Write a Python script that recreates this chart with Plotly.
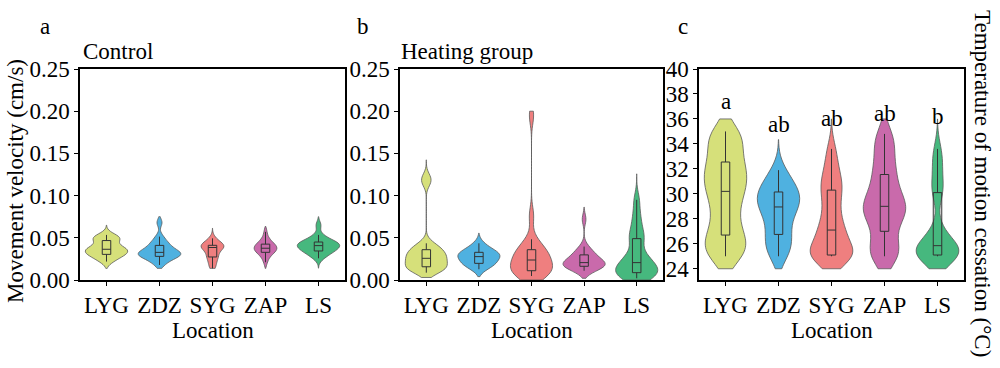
import plotly.graph_objects as go

# ---------------- data ----------------
locations = ["LYG", "ZDZ", "SYG", "ZAP", "LS"]
colors = ["#d6e07a", "#4fb1e0", "#ef7f7f", "#c96aab", "#46b87e"]

# a: Control – movement velocity (cm/s)
ctrl_LYG = [0.0218, 0.025, 0.028, 0.030, 0.0305, 0.032, 0.034, 0.0355, 0.0364, 0.037, 0.039, 0.041, 0.0463, 0.048, 0.050, 0.051, 0.0534]
ctrl_ZDZ = [0.0178, 0.022, 0.025, 0.027, 0.028, 0.029, 0.030, 0.031, 0.0325, 0.033, 0.034, 0.036, 0.038, 0.041, 0.043, 0.046, 0.0514, 0.068]
ctrl_SYG = [0.0138, 0.018, 0.022, 0.026, 0.0277, 0.030, 0.033, 0.036, 0.0385, 0.039, 0.0395, 0.040, 0.0408, 0.042, 0.044, 0.046, 0.0494]
ctrl_ZAP = [0.021, 0.0265, 0.030, 0.032, 0.0328, 0.034, 0.036, 0.037, 0.0375, 0.0378, 0.039, 0.040, 0.0418, 0.0425, 0.044, 0.047, 0.0494, 0.057]
ctrl_LS = [0.0257, 0.029, 0.032, 0.034, 0.0344, 0.036, 0.038, 0.039, 0.0405, 0.041, 0.042, 0.043, 0.0445, 0.045, 0.047, 0.049, 0.0534, 0.065]

# b: Heating group – movement velocity (cm/s)
heat_LYG = [0.0087, 0.011, 0.013, 0.015, 0.0155, 0.0162, 0.020, 0.023, 0.025, 0.0257, 0.028, 0.030, 0.033, 0.0350, 0.0362, 0.040, 0.0435, 0.115, 0.122]
heat_ZDZ = [0.0127, 0.016, 0.018, 0.0195, 0.0198, 0.022, 0.025, 0.027, 0.0277, 0.029, 0.030, 0.031, 0.0324, 0.034, 0.036, 0.039, 0.0435]
heat_SYG = [0.0047, 0.006, 0.008, 0.009, 0.011, 0.011, 0.014, 0.017, 0.021, 0.0237, 0.026, 0.028, 0.032, 0.035, 0.0362, 0.040, 0.0483, 0.076, 0.195]
heat_ZAP = [0.011, 0.013, 0.015, 0.0155, 0.016, 0.017, 0.018, 0.019, 0.020, 0.0206, 0.022, 0.023, 0.025, 0.029, 0.030, 0.032, 0.035, 0.0396, 0.072]
heat_LS = [0.002, 0.004, 0.006, 0.008, 0.0087, 0.0087, 0.012, 0.015, 0.018, 0.0206, 0.023, 0.027, 0.033, 0.046, 0.050, 0.056, 0.066, 0.078, 0.095]

# c: Temperature of motion cessation (°C)
temp_LYG = [25.0, 25.0, 25.5, 26.0, 26.4, 26.8, 27.5, 28.3, 29.0, 29.7, 30.2, 30.7, 31.1, 31.5, 32.0, 32.4, 33.0, 33.7, 34.3, 34.8, 35.0]
temp_ZDZ = [25.0, 25.2, 25.8, 26.2, 26.5, 27.0, 27.6, 28.1, 28.5, 28.9, 29.0, 29.3, 29.6, 29.8, 30.1, 30.2, 30.5, 30.9, 31.4, 31.9]
temp_SYG = [25.0, 25.0, 25.1, 25.1, 25.1, 25.1, 25.6, 26.2, 26.7, 27.0, 27.2, 27.9, 28.6, 29.3, 30.1, 30.5, 31.0, 31.6, 32.5, 33.6]
temp_ZAP = [25.0, 25.0, 25.2, 25.8, 26.5, 27.5, 28.0, 28.3, 28.7, 29.0, 29.0, 29.5, 30.0, 30.5, 31.3, 31.8, 32.5, 33.5, 34.2, 34.8]
temp_LS = [25.0, 25.0, 25.0, 25.0, 25.1, 25.1, 25.3, 25.5, 25.7, 25.8, 25.9, 26.2, 26.6, 27.4, 29.9, 30.3, 31.0, 32.0, 32.8, 33.6]

sig_letters = ["a", "ab", "ab", "ab", "b"]

control = [ctrl_LYG, ctrl_ZDZ, ctrl_SYG, ctrl_ZAP, ctrl_LS]
heating = [heat_LYG, heat_ZDZ, heat_SYG, heat_ZAP, heat_LS]
temps = [temp_LYG, temp_ZDZ, temp_SYG, temp_ZAP, temp_LS]

# ---------------- style ----------------
FONT = "Liberation Serif, Times New Roman, serif"
FS = 23
W, H = 1000, 368
ML, MR, MT, MB = 80, 36, 69, 88
PW = W - ML - MR
PH = H - MT - MB


def px_x(px):
    return (px - ML) / PW


def px_y(py):
    return (H - MB - py) / PH


panels = [
    dict(data=control, ax="x", ay="y", dom=(80, 345),
         widths=[0.8, 0.8, 0.43, 0.43, 0.8], bw=[0.0045] * 5,
         spans=[[0.0138, 0.065], [0.0138, 0.075], [0.0138, 0.0613], [0.0138, 0.0633], [0.014, 0.075]]),
    dict(data=heating, ax="x2", ay="y2", dom=(400, 663),
         widths=[0.8] * 5, bw=[0.0062, 0.0055, 0.0105, 0.0062, 0.0095],
         spans=[[0.003, 0.1424], [0.004, 0.0554], [0.0, 0.2], [0.002, 0.0863], [0.0, 0.1258]]),
    dict(data=temps, ax="x3", ay="y3", dom=(699, 964),
         widths=[0.8] * 5, bw=[1.05, 0.95, 0.95, 1.05, 0.95],
         spans=[[24, 36], [24, 34.35], [24, 36], [24, 36], [24, 36]]),
]

fig = go.Figure()
for p in panels:
    unit_px = (p["dom"][1] - p["dom"][0]) / 5
    for i, loc in enumerate(locations):
        vals = p["data"][i]
        fig.add_trace(go.Violin(
            x=[loc] * len(vals), y=vals, xaxis=p["ax"], yaxis=p["ay"],
            fillcolor=colors[i], line=dict(color="#5a5a5a", width=0.8),
            opacity=1, width=p["widths"][i], scalemode="width",
            spanmode="manual", span=p["spans"][i], bandwidth=p["bw"][i],
            points=False,
            box=dict(visible=True, width=8.5 / (p["widths"][i] * unit_px),
                     fillcolor="rgba(0,0,0,0)", line=dict(color="#333333", width=1)),
            meanline=dict(visible=False), showlegend=False, hoverinfo="y",
        ))

axis_common = dict(showline=True, linecolor="black", linewidth=1.5, mirror=True,
                   ticks="outside", ticklen=4, tickwidth=1.2, tickcolor="black",
                   tickfont=dict(family=FONT, size=FS, color="black"),
                   showgrid=False, zeroline=False)

layout = dict(
    width=W, height=H, margin=dict(l=ML, r=MR, t=MT, b=MB),
    paper_bgcolor="white", plot_bgcolor="white",
    violinmode="overlay", violingap=0, showlegend=False,
    font=dict(family=FONT, size=FS, color="black"),
)
for k, p in enumerate(panels):
    sx = "" if k == 0 else str(k + 1)
    layout["xaxis" + sx] = dict(axis_common, domain=[px_x(p["dom"][0]), px_x(p["dom"][1])],
                                type="category", categoryorder="array", categoryarray=locations,
                                range=[-0.5, 4.5], anchor="y" + sx)
    if k < 2:
        layout["yaxis" + sx] = dict(axis_common, domain=[0, 1], range=[0, 0.25],
                                    tickvals=[0, 0.05, 0.1, 0.15, 0.2, 0.25], tickformat=".2f",
                                    anchor="x" + sx)
    else:
        layout["yaxis" + sx] = dict(axis_common, domain=[0, 1], range=[23.1, 40],
                                    tickvals=list(range(24, 41, 2)), anchor="x" + sx)
fig.update_layout(**layout)

ann = []


def txt(text, x, y, xanchor="center", angle=0, xref="paper", yref="paper"):
    ann.append(dict(text=text, x=x, y=y, xref=xref, yref=yref, showarrow=False,
                    xanchor=xanchor, yanchor="middle", textangle=angle,
                    font=dict(family=FONT, size=FS, color="black")))


txt("a", px_x(45), px_y(27))
txt("b", px_x(363), px_y(27))
txt("c", px_x(683), px_y(27))
txt("Control", px_x(81), px_y(52), xanchor="left")
txt("Heating group", px_x(399), px_y(52), xanchor="left")
for p in panels:
    txt("Location", px_x((p["dom"][0] + p["dom"][1]) / 2), px_y(330))
txt("Movement velocity (cm/s)", px_x(15), px_y(181), angle=-90)
txt("Temperature of motion cessation (°C)", px_x(983), px_y(184), angle=90)

sig_y = [37.37, 35.57, 36.04, 36.45, 36.2]
for i, loc in enumerate(locations):
    txt(sig_letters[i], loc, sig_y[i], xref="x3", yref="y3")

fig.update_layout(annotations=ann)
fig.write_html("out.html", config={"displayModeBar": False},
               post_script="document.body.style.margin='0';")
